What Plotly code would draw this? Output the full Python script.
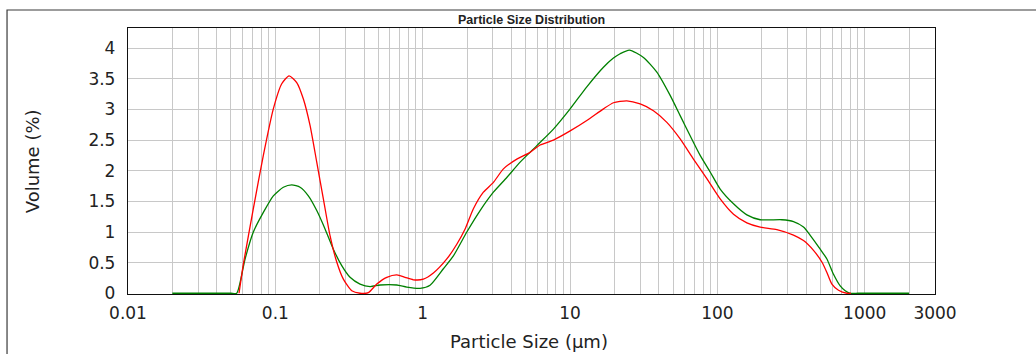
import plotly.graph_objects as go

# Particle size classes (µm) and volume density (%) for the two measurements
red_size = [0.0567, 0.0607, 0.0709, 0.0829, 0.0969, 0.1105, 0.1239, 0.1397, 0.155, 0.172,
            0.191, 0.2118, 0.2351, 0.2611, 0.2895, 0.3302, 0.3758, 0.428, 0.488, 0.5706,
            0.6671, 0.7594, 0.8648, 1.011, 1.182, 1.458, 1.704, 1.941, 2.209, 2.583,
            3.02, 3.531, 4.354, 5.36, 6.266, 7.716, 10.02, 13.0, 16.86, 19.71,
            24.3, 29.92, 36.83, 45.42, 55.91, 68.83, 84.87, 104.5, 128.7, 158.6,
            195.3, 253.4, 328.6, 384.2, 449.2, 512.2, 553.9, 598.9, 663.9, 757.0, 805.7]
red_vol = [0.0, 0.48, 1.38, 2.25, 3.01, 3.42, 3.55, 3.44, 3.17, 2.74,
           2.14, 1.54, 0.94, 0.51, 0.23, 0.04, 0.0, 0.01, 0.15, 0.26,
           0.30, 0.26, 0.22, 0.23, 0.33, 0.56, 0.80, 1.05, 1.38, 1.65,
           1.81, 2.03, 2.19, 2.30, 2.42, 2.50, 2.65, 2.82, 3.01, 3.11,
           3.14, 3.09, 2.98, 2.79, 2.52, 2.19, 1.87, 1.54, 1.29, 1.15,
           1.08, 1.04, 0.95, 0.86, 0.70, 0.51, 0.34, 0.15, 0.05, 0.0, 0.0]

green_size = [0.02, 0.03, 0.04, 0.05, 0.0547, 0.0623, 0.0709, 0.0829, 0.0969, 0.1133,
              0.1292, 0.1472, 0.1675, 0.191, 0.2175, 0.2475, 0.2823, 0.3214, 0.3758, 0.4395,
              0.5139, 0.6671, 0.78, 0.9603, 1.122, 1.382, 1.616, 1.993, 2.453, 3.02,
              3.724, 4.585, 5.952, 7.716, 10.02, 13.0, 16.86, 19.71, 21.88, 25.31,
              31.5, 38.85, 47.82, 55.91, 65.36, 76.43, 89.36, 104.5, 128.7, 158.6,
              195.3, 274.1, 328.6, 384.2, 438.0, 498.9, 553.9, 614.1, 681.9, 737.5,
              797.3, 900.0, 1200.0, 1600.0, 2000.0]
green_vol = [0.0, 0.0, 0.0, 0.0, 0.0, 0.56, 1.0, 1.32, 1.59, 1.73,
             1.77, 1.73, 1.59, 1.35, 1.05, 0.72, 0.45, 0.26, 0.15, 0.11,
             0.135, 0.135, 0.10, 0.08, 0.13, 0.40, 0.61, 1.0, 1.35, 1.65,
             1.89, 2.14, 2.41, 2.68, 3.01, 3.37, 3.69, 3.84, 3.91, 3.97,
             3.85, 3.61, 3.23, 2.90, 2.57, 2.25, 1.98, 1.70, 1.46, 1.28,
             1.20, 1.20, 1.17, 1.08, 0.91, 0.72, 0.56, 0.31, 0.12, 0.04,
             0.0, 0.0, 0.0, 0.0, 0.0]

x_tick_vals = [0.01, 0.1, 1, 10, 100, 1000, 3000]
x_tick_text = ["0.01", "0.1", "1", "10", "100", "1000", "3000"]
y_tick_vals = [0, 0.5, 1, 1.5, 2, 2.5, 3, 3.5, 4]
y_tick_text = ["0", "0.5", "1", "1.5", "2", "2.5", "3", "3.5", "4"]

# log-scale minor grid: every integer multiple inside each decade
minor_grid = [m * 10 ** e for e in range(-2, 4) for m in range(2, 10) if m * 10 ** e < 3000]

TEXT = "#222222"
GRID = "#c8c8c8"

fig = go.Figure()
fig.add_trace(go.Scatter(x=green_size, y=green_vol, mode="lines",
                         line=dict(color="#008000", width=1.3, shape="spline", smoothing=0.6),
                         showlegend=False))
fig.add_trace(go.Scatter(x=red_size, y=red_vol, mode="lines",
                         line=dict(color="#ff0000", width=1.3, shape="spline", smoothing=0.6),
                         showlegend=False))

fig.update_layout(
    width=1036, height=354,
    margin=dict(l=128, r=101, t=28, b=60, autoexpand=False),
    paper_bgcolor="white", plot_bgcolor="white",
    font=dict(family="DejaVu Sans", size=17, color=TEXT),
    xaxis=dict(
        type="log", range=[-2, 3.47712], tickvals=x_tick_vals, ticktext=x_tick_text,
        showgrid=True, gridcolor=GRID, gridwidth=1.4,
        minor=dict(tickvals=minor_grid, showgrid=True, gridcolor=GRID, gridwidth=1.4, ticks=""),
        showline=True, linecolor="#111111", linewidth=1.3, mirror=True,
        ticks="", ticklabelstandoff=3, zeroline=False, layer="below traces",
    ),
    yaxis=dict(
        range=[-0.012, 4.33], tickvals=y_tick_vals, ticktext=y_tick_text,
        showgrid=True, gridcolor=GRID, gridwidth=1.4,
        showline=True, linecolor="#111111", linewidth=1.3, mirror=True,
        ticks="", ticklabelstandoff=8, zeroline=False, layer="below traces",
    ),
    shapes=[dict(type="rect", xref="paper", yref="paper",
                 x0=-0.1499, x1=1.5, y0=-0.6, y1=1.0677,
                 line=dict(color="#3a3a3a", width=1.2), layer="below")],
    annotations=[
        dict(text="<b>Particle Size Distribution</b>", xref="paper", yref="paper",
             x=0.5, y=1.03, xanchor="center", yanchor="middle", showarrow=False,
             font=dict(family="Liberation Sans", size=12.5, color="#222222")),
        dict(text="Volume (%)", xref="paper", yref="paper", textangle=-90,
             x=-0.1186, y=0.5, xanchor="center", yanchor="middle", showarrow=False,
             font=dict(family="DejaVu Sans", size=18, color=TEXT)),
        dict(text="Particle Size (µm)", xref="paper", yref="paper",
             x=0.4964, y=-0.1793, xanchor="center", yanchor="middle", showarrow=False,
             font=dict(family="DejaVu Sans", size=18, color=TEXT)),
    ],
)

fig.write_html("out.html")
